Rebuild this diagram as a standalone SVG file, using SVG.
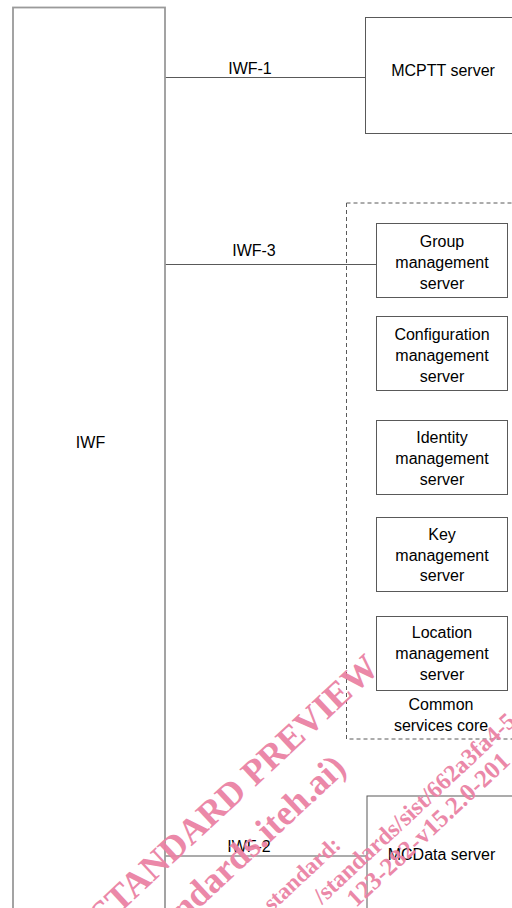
<svg xmlns="http://www.w3.org/2000/svg" width="512" height="908" viewBox="0 0 512 908">
<style>
.lbl{font-family:"Liberation Sans",Arial,sans-serif;font-size:16px;fill:#000;text-anchor:middle}
.box{fill:#fff;stroke:#595959;stroke-width:1}
.iwf{fill:#fff;stroke:#9a9a9a;stroke-width:1.8}
.conn{stroke:#595959;stroke-width:1.2;fill:none}
.wm{font-family:"Liberation Serif","Times New Roman",serif;font-weight:bold;fill:#ea82a4}
</style>
<rect width="512" height="908" fill="#fff"/>
<g id="common-services-core">
<rect x="346.5" y="203" width="180" height="536" fill="none" stroke="#595959" stroke-width="1" stroke-dasharray="4,3"/>
<text class="lbl" x="441" y="710">Common</text>
<text class="lbl" x="441" y="731">services core</text>
</g>
<g id="connectors">
<line class="conn" x1="165" y1="77.5" x2="365.5" y2="77.5" stroke="#8a8a8a"/>
<line class="conn" x1="165" y1="264.5" x2="376.5" y2="264.5"/>
<line class="conn" x1="165" y1="856" x2="367" y2="856"/>
<text class="lbl" x="250" y="74">IWF-1</text>
<text class="lbl" x="254" y="256">IWF-3</text>
<text class="lbl" x="249" y="852">IWF-2</text>
</g>
<g id="iwf">
<rect class="iwf" x="13" y="7.5" width="152" height="920"/>
<text class="lbl" x="90.5" y="448">IWF</text>
</g>
<g id="mcptt-server">
<rect class="box" x="365.5" y="17.5" width="160" height="116"/>
<text class="lbl" x="443" y="76">MCPTT server</text>
</g>
<g id="group-management-server">
<rect class="box" x="376.5" y="223.5" width="131" height="74"/>
<text class="lbl" x="442" y="247">Group</text>
<text class="lbl" x="442" y="268">management</text>
<text class="lbl" x="442" y="289">server</text>
</g>
<g id="configuration-management-server">
<rect class="box" x="376.5" y="316.5" width="131" height="74"/>
<text class="lbl" x="442" y="340">Configuration</text>
<text class="lbl" x="442" y="361">management</text>
<text class="lbl" x="442" y="382">server</text>
</g>
<g id="identity-management-server">
<rect class="box" x="376.5" y="420.5" width="131" height="74"/>
<text class="lbl" x="442" y="443">Identity</text>
<text class="lbl" x="442" y="464">management</text>
<text class="lbl" x="442" y="485">server</text>
</g>
<g id="key-management-server">
<rect class="box" x="376.5" y="517.5" width="131" height="74"/>
<text class="lbl" x="442" y="540">Key</text>
<text class="lbl" x="442" y="561">management</text>
<text class="lbl" x="442" y="581">server</text>
</g>
<g id="location-management-server">
<rect class="box" x="376.5" y="616.5" width="131" height="74"/>
<text class="lbl" x="442" y="638">Location</text>
<text class="lbl" x="442" y="659">management</text>
<text class="lbl" x="442" y="680">server</text>
</g>
<g id="mcdata-server">
<rect class="box" x="367" y="796" width="160" height="130"/>
<text class="lbl" x="441.5" y="860">MCData server</text>
</g>
<g id="watermark" opacity="0.95">
<text class="wm" font-size="36" transform="translate(104,928) rotate(-43)">STANDARD PREVIEW</text>
<text class="wm" font-size="36" transform="translate(143,961) rotate(-43)">(standards.iteh.ai)</text>
<text class="wm" font-size="23" transform="translate(272,912) rotate(-43)">standard:</text>
<text class="wm" font-size="24" transform="translate(322,905) rotate(-43)">/standards/sist/662a3fa4-5</text>
<text class="wm" font-size="25" transform="translate(356,908) rotate(-43)">123-282-v15.2.0-201</text>
</g>
</svg>
